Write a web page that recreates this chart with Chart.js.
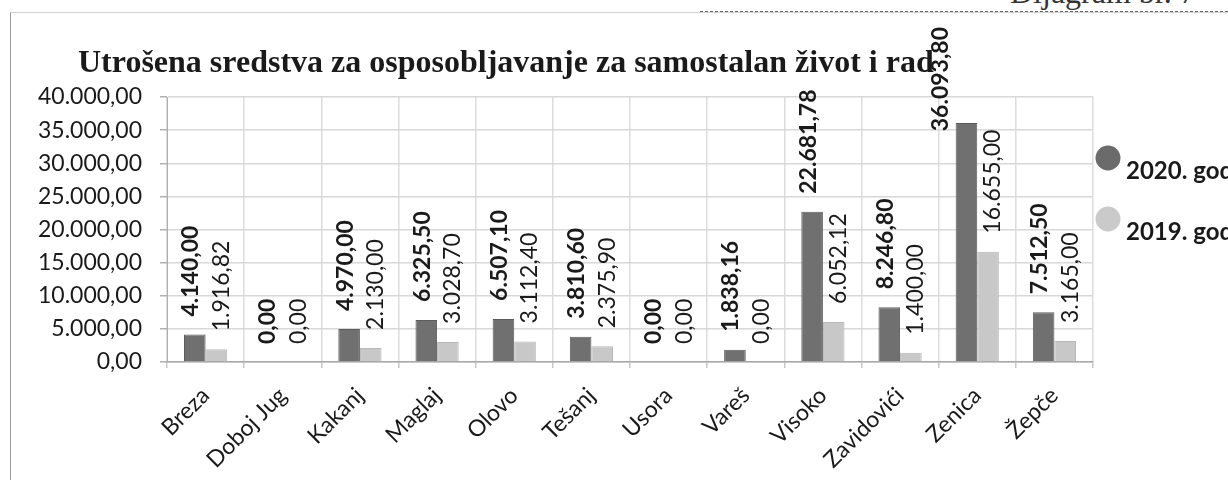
<!DOCTYPE html>
<html>
<head>
<meta charset="utf-8">
<script src="https://cdn.jsdelivr.net/npm/chart.js@4.4.1/dist/chart.umd.min.js"></script>
<style>
  html, body { margin: 0; padding: 0; background: #fff; overflow: hidden; }
  #wrap { position: relative; width: 1228px; height: 480px; overflow: hidden; }
  #okvir { position: absolute; left: 10px; top: 12px; width: 1240px; height: 500px;
           border-left: 1px solid #9a9a9a; border-top: 1px solid #d2d2d2; }
  #crta { position: absolute; left: 700px; width: 528px; top: 11px; border-top: 1px dashed #666; }
  #dijagram { position: absolute; left: 1010px; top: -26px; font: 32px "Liberation Serif"; color: #333; white-space: nowrap; }
  canvas { position: absolute; left: 0; top: 0; }
</style>
</head>
<body>
<div id="wrap">
  <div id="okvir"></div>
  <div id="crta"></div>
  <div id="dijagram">Dijagram br. 7</div>
  <canvas id="grafik" width="1228" height="480"></canvas>
</div>
<script>
// podaci
const naslov = 'Utrošena sredstva za osposobljavanje za samostalan život i rad';
const opcine = ['Breza', 'Doboj Jug', 'Kakanj', 'Maglaj', 'Olovo', 'Tešanj', 'Usora', 'Vareš', 'Visoko', 'Zavidovići', 'Zenica', 'Žepče'];
const god2020 = [4140.00, 0, 4970.00, 6325.50, 6507.10, 3810.60, 0, 1838.16, 22681.78, 8246.80, 36093.80, 7512.50];
const god2019 = [1916.82, 0, 2130.00, 3028.70, 3112.40, 2375.90, 0, 0, 6052.12, 1400.00, 16655.00, 3165.00];
const yTickovi = [0, 5000, 10000, 15000, 20000, 25000, 30000, 35000, 40000];

// 40.000,00 format
function formatKM(v) {
    const dijelovi = v.toFixed(2).split('.');
    const cijeli = dijelovi[0].replace(/\B(?=(\d{3})+(?!\d))/g, '.');
    return cijeli + ',' + dijelovi[1];
}

// naslov lijevo poravnat (Chart.js title nema lijevi pomak)
const naslovPlugin = {
    id: 'naslov',
    beforeDatasetsDraw(chart, args, opts) {
        const ctx = chart.ctx;
        ctx.save();
        ctx.font = opts.font;
        ctx.fillStyle = '#1a1a1a';
        ctx.textBaseline = 'alphabetic';
        ctx.fillText(opts.tekst, opts.x, opts.y);
        ctx.restore();
    }
};

// vrijednosti iznad stubaca, okrenute za 90 stepeni
const oznakePlugin = {
    id: 'oznake',
    afterDatasetsDraw(chart, args, opts) {
        const ctx = chart.ctx;
        chart.data.datasets.forEach((ds, i) => {
            const meta = chart.getDatasetMeta(i);
            meta.data.forEach((bar, j) => {
                const tekst = formatKM(ds.data[j]);
                ctx.save();
                ctx.font = opts.fontovi[i];
                ctx.fillStyle = '#1a1a1a';
                const w = ctx.measureText(tekst).width;
                let x = bar.x + opts.pomaci[i];
                let y = bar.y - opts.razmak;
                if (y - w < opts.vrh) {
                    // nema mjesta gore -> pored stupca
                    y = opts.vrh + w;
                    x = bar.x - bar.width / 2 - 15;
                }
                ctx.translate(x, y);
                ctx.rotate(-Math.PI / 2);
                ctx.textAlign = 'left';
                ctx.textBaseline = 'middle';
                ctx.fillText(tekst, 0, 0);
                ctx.restore();
            });
        });
    }
};

// legenda desno, odsječena ivicom
const legendaPlugin = {
    id: 'legenda',
    afterDraw(chart) {
        const ctx = chart.ctx;
        const x0 = chart.chartArea.right;
        chart.data.datasets.forEach((ds, i) => {
            const cy = chart.chartArea.top + 61 * (i + 1);
            ctx.save();
            ctx.fillStyle = ds.legendBoja;
            ctx.beginPath();
            ctx.arc(x0 + 15, cy, 12.5, 0, Math.PI * 2);
            ctx.fill();
            ctx.fillStyle = '#1a1a1a';
            ctx.font = 'bold 24px Lato';
            ctx.textBaseline = 'middle';
            ctx.fillText(ds.label, x0 + 33, cy + 13);
            ctx.restore();
        });
    }
};

new Chart(document.getElementById('grafik'), {
    type: 'bar',
    data: {
        labels: opcine,
        datasets: [
            {
                label: '2020. godina',
                data: god2020,
                backgroundColor: '#707070',
                borderColor: '#5c5c5c',
                borderWidth: 1,
                legendBoja: '#6b6b6b',
                categoryPercentage: 0.56,
                barPercentage: 1
            },
            {
                label: '2019. godina',
                data: god2019,
                backgroundColor: '#c8c8c8',
                borderColor: '#b8b8b8',
                borderWidth: 1,
                legendBoja: '#cacaca',
                categoryPercentage: 0.56,
                barPercentage: 1
            }
        ]
    },
    options: {
        responsive: false,
        animation: false,
        layout: {
            padding: { left: 30, right: 135, top: 97, bottom: 0 }
        },
        plugins: {
            legend: { display: false },
            tooltip: { enabled: false },
            title: { display: false },
            naslov: {
                tekst: naslov,
                font: 'bold 32px "Liberation Serif"',
                x: 78,
                y: 72
            },
            oznake: {
                fontovi: ['bold 23px Lato', '23px Lato'],
                pomaci: [-4, 5],
                razmak: 18,
                vrh: 27
            }
        },
        scales: {
            x: {
                grid: { color: '#dcdcdc', lineWidth: 1.5, tickLength: 6, tickColor: '#c8c8c8' },
                border: { color: '#a8a8a8', width: 1.5 },
                ticks: {
                    color: '#1a1a1a',
                    font: { family: 'Lato', size: 23 },
                    minRotation: 45,
                    maxRotation: 45,
                    padding: 14
                },
                afterFit(scale) { scale.height = 118; }
            },
            y: {
                min: 0,
                max: 40000,
                afterBuildTicks(scale) { scale.ticks = yTickovi.map(v => ({ value: v })); },
                afterFit(scale) { scale.width = 137; },
                grid: { color: '#d8d8d8', lineWidth: 1.5, tickLength: 7, tickColor: '#b0b0b0' },
                border: { color: '#b0b0b0' },
                ticks: {
                    color: '#1a1a1a',
                    font: { family: 'Lato', size: 23 },
                    padding: 18,
                    callback: v => formatKM(v)
                }
            }
        }
    },
    plugins: [naslovPlugin, oznakePlugin, legendaPlugin]
});
</script>
</body>
</html>
